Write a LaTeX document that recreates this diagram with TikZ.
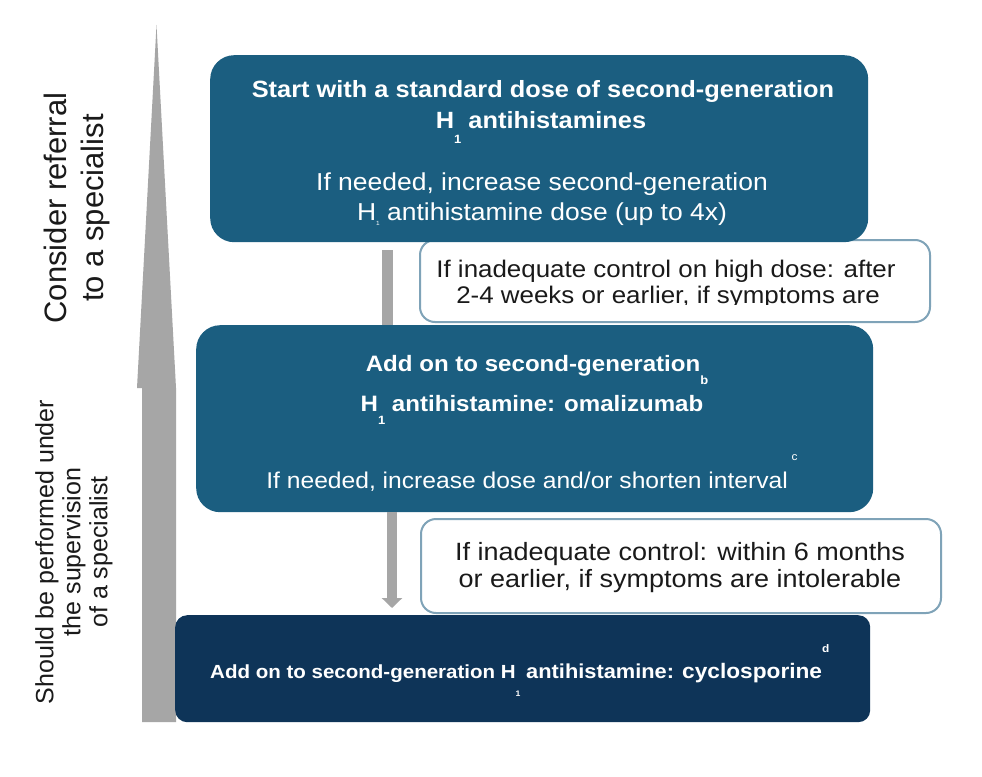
\documentclass[tikz,border=0pt]{standalone}
\usepackage{fontspec}
\setmainfont{Liberation Sans}
\newfontfamily\ff[FakeStretch=1.08]{Liberation Sans}
\usetikzlibrary{arrows.meta}
\definecolor{tealbox}{HTML}{1B5E80}
\definecolor{navybox}{HTML}{0E3458}
\definecolor{edgeblue}{HTML}{7FA3B8}
\definecolor{barg}{HTML}{A6A6A6}
\definecolor{ink}{HTML}{1A1A1A}
\newcommand\myfs[1]{\fontsize{#1}{#1}\selectfont}
\newcommand\lowsub[2]{\raisebox{#1}{\myfs{#2}1}}
\begin{document}
\begin{tikzpicture}[x=1pt,y=-1pt,
  bluebox/.style={fill=tealbox, rounded corners=24pt, inner sep=0pt, anchor=north west},
  navyboxst/.style={fill=navybox, rounded corners=12pt, inner sep=0pt, anchor=north west},
  notebox/.style={fill=white, draw=edgeblue, line width=2pt, rounded corners=15pt, inner sep=0pt, anchor=north west},
  wtext/.style={text=white, inner sep=0pt, anchor=base},
  dtext/.style={text=ink, inner sep=0pt, anchor=base},
  sidetext/.style={text=ink, inner sep=0pt, align=center, rotate=90}]
\useasboundingbox (0,0) rectangle (982,776);
\fill[white] (0,0) rectangle (982,776);

% big upward arrow
\fill[barg] (156.5,25) -- (176,388) -- (176,722) -- (142,722) -- (142,388) -- (137,388) -- cycle;

% side labels
\node[sidetext, font=\myfs{31}] (sideA) at (77,208)
  {Consider referral\\[6pt]to a specialist};
\node[sidetext, font=\myfs{25}] (sideB) at (74,552)
  {Should be performed under\\[2pt]the supervision\\[2pt]of a specialist};

% boxes
\node[notebox, minimum width=510pt, minimum height=82pt] (b2) at (419,239) {};
\node[bluebox, minimum width=658pt, minimum height=187pt] (b1) at (210,55) {};
\node[bluebox, minimum width=677pt, minimum height=187pt] (b3) at (196,325) {};
\node[notebox, minimum width=520pt, minimum height=94pt] (b4) at (420,518) {};
\node[navyboxst, minimum width=695pt, minimum height=107pt] (b5) at (175,615) {};

% connectors
\coordinate (c1) at (387.5,0);
\coordinate (c2) at (392,0);
\draw[barg, line width=11pt] ([yshift=-8pt]b1.south -| c1) -- (b3.north -| c1);
\draw[barg, line width=10pt, -{Triangle[width=20pt,length=10pt]}] (b3.south -| c2) -- ([yshift=7pt]b5.north -| c2);

% box 1 text
\node[wtext, font=\ff\bfseries\myfs{23.5}] (t1a) at (543,97) {Start with a standard dose of second-generation};
\node[wtext, font=\ff\bfseries\myfs{23.5}] (t1b) at (541,128) {H\lowsub{-15pt}{12} antihistamines};
\node[wtext, font=\ff\myfs{24.5}] (t1c) at (542,190) {If needed, increase second-generation};
\node[wtext, font=\ff\myfs{24.5}] (t1d) at (542,220) {H\lowsub{-5pt}{6} antihistamine dose (up to 4x)};

% box 2 text (clipped at bottom)
\begin{scope}
\clip (420,240) rectangle (928,304.5);
\node[dtext, font=\ff\myfs{24}] (t2a) at (666,277) {If inadequate control on high dose: after};
\node[dtext, font=\ff\myfs{24}] (t2b) at (668,303) {2-4 weeks or earlier, if symptoms are};
\end{scope}

% box 3 text
\node[wtext, font=\ff\bfseries\myfs{22.3}] (t3a) at (537,371) {Add on to second-generation\raisebox{-13pt}{\myfs{12}b}};
\node[wtext, font=\ff\bfseries\myfs{22.3}] (t3b) at (532,411) {H\lowsub{-13pt}{12} antihistamine: omalizumab};
\node[wtext, font=\ff\myfs{22.8}] (t3c) at (532,488) {If needed, increase dose and/or shorten interval\,\raisebox{28pt}{\myfs{11}c}};

% box 4 text
\node[dtext, font=\ff\myfs{25}] (t4a) at (680,560) {If inadequate control: within 6 months};
\node[dtext, font=\ff\myfs{25}] (t4b) at (680,587) {or earlier, if symptoms are intolerable};

% box 5 text
\node[wtext, anchor=base west, font=\ff\bfseries] (t5) at (210,678)
  {\myfs{19}Add on to second-generation H\lowsub{-18pt}{8} \myfs{20.2}antihistamine: \myfs{21}cyclosporine\raisebox{26pt}{\myfs{11}d}};
\end{tikzpicture}
\end{document}
